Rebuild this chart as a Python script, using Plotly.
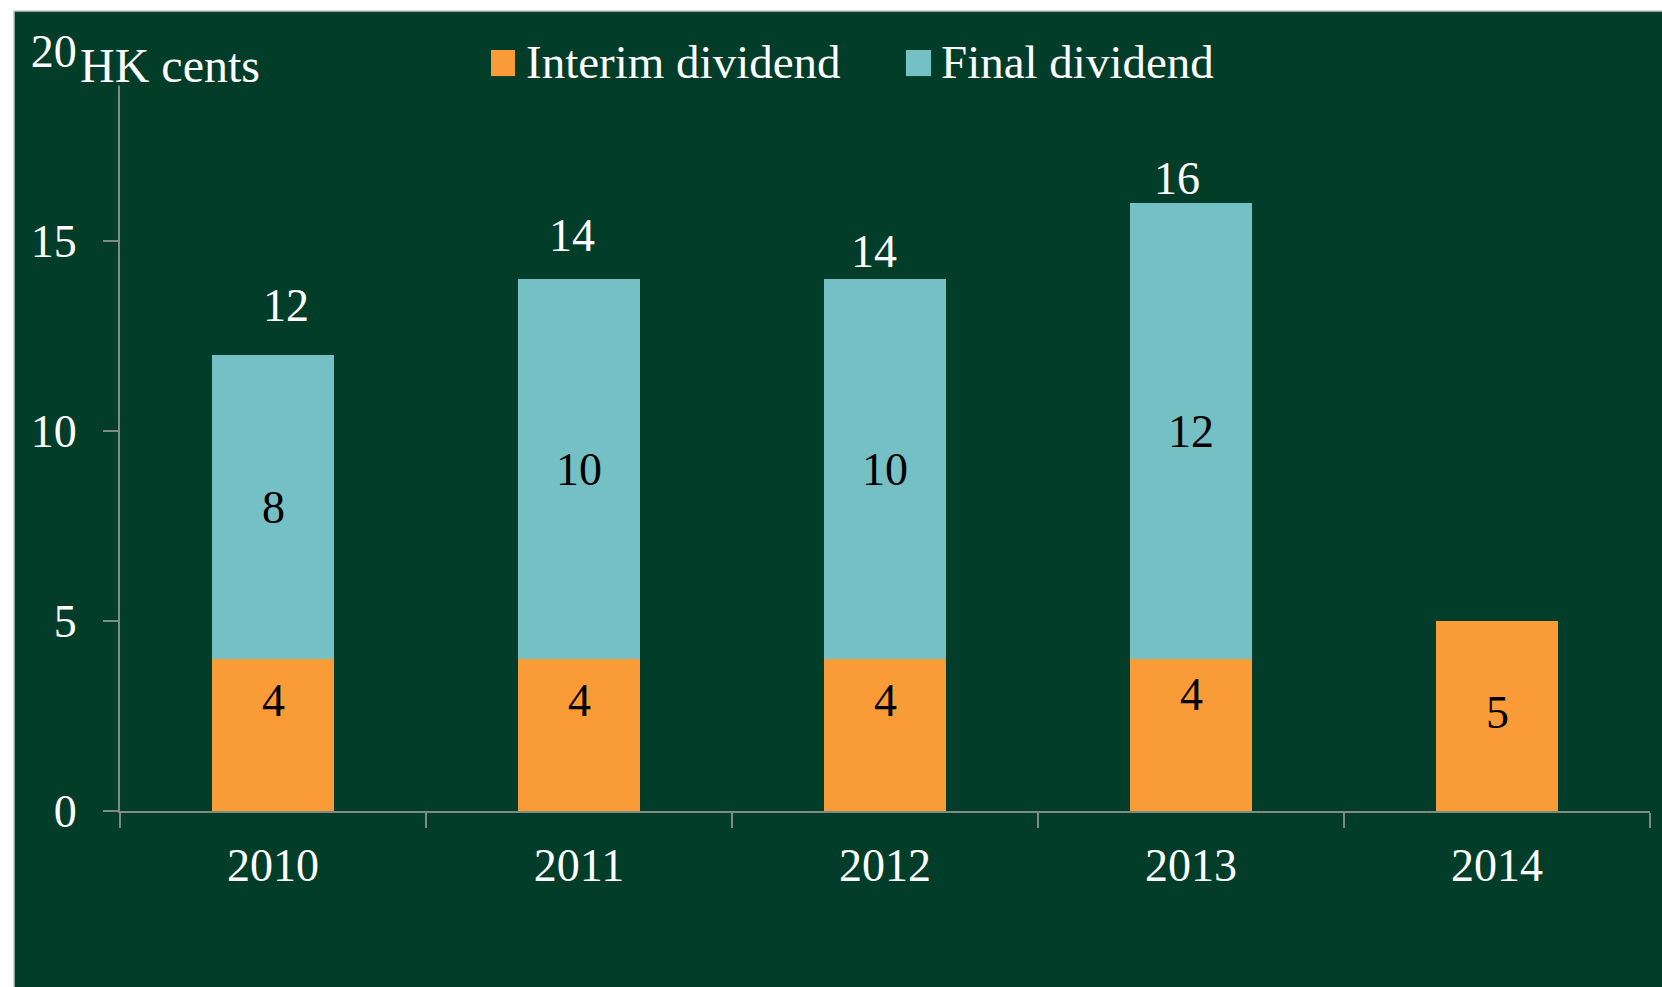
import plotly.graph_objects as go

years = ["2010", "2011", "2012", "2013", "2014"]
interim = [4, 4, 4, 4, 5]
final = [8, 10, 10, 12, 0]
totals = [12, 14, 14, 16, None]

# style: per-label pixel offsets to mimic the reference label placement
total_xshift = [13, -7, -11, -14]
total_yshift = [50, 44, 28, 25]
interim_yshift = [35, 35, 35, 41, 4]

BG = "#023D29"
ORANGE = "#F99B36"
TEAL = "#74C0C4"
AXIS = "#7F8A85"
FONT = "Liberation Serif"

fig = go.Figure()
fig.add_trace(go.Bar(x=years, y=interim, name="Interim dividend",
                     marker=dict(color=ORANGE, line=dict(width=0)), showlegend=False))
fig.add_trace(go.Bar(x=years, y=[f if f else None for f in final], name="Final dividend",
                     marker=dict(color=TEAL, line=dict(width=0)), showlegend=False))

ann = []
for i, yr in enumerate(years):
    ann.append(dict(x=i, y=interim[i] / 2, text=str(interim[i]), showarrow=False,
                    yshift=interim_yshift[i], font=dict(family=FONT, size=46, color="black")))
    if final[i]:
        ann.append(dict(x=i, y=interim[i] + final[i] / 2, text=str(final[i]), showarrow=False,
                        font=dict(family=FONT, size=46, color="black")))
    if totals[i] is not None:
        ann.append(dict(x=i, y=totals[i], text=str(totals[i]), showarrow=False,
                        xshift=total_xshift[i], yshift=total_yshift[i],
                        font=dict(family=FONT, size=46, color="white")))

# y-axis unit label
ann.append(dict(xref="paper", yref="paper", x=-0.027, y=0.982, xanchor="left", yanchor="middle",
                text="HK cents", showarrow=False, bgcolor=BG, borderpad=0, height=40, valign="middle",
                font=dict(family=FONT, size=48, color="white")))
# legend text
ann.append(dict(xref="paper", yref="paper", x=0.264, y=0.986, xanchor="left", yanchor="middle",
                text="Interim dividend", showarrow=False,
                font=dict(family=FONT, size=47, color="white")))
ann.append(dict(xref="paper", yref="paper", x=0.535, y=0.986, xanchor="left", yanchor="middle",
                text="Final dividend", showarrow=False,
                font=dict(family=FONT, size=47, color="white")))

shapes = [
    dict(type="rect", xref="paper", yref="paper", x0=-0.0693, x1=1.01, y0=-0.235, y1=1.0526,
         fillcolor=BG, line=dict(color="#C8C8C8", width=1.5), layer="below"),
    dict(type="rect", xref="paper", yref="paper", x0=0.2425, x1=0.2582, y0=0.967, y1=1.0013,
         fillcolor=ORANGE, line=dict(width=0)),
    dict(type="rect", xref="paper", yref="paper", x0=0.5137, x1=0.5301, y0=0.967, y1=1.0013,
         fillcolor=TEAL, line=dict(width=0)),
]

fig.update_layout(
    barmode="stack", bargap=0.6,
    width=1662, height=987,
    margin=dict(l=120, r=12, t=51, b=176),
    paper_bgcolor="white", plot_bgcolor="rgba(0,0,0,0)",
    font=dict(family=FONT, color="white"),
    annotations=ann, shapes=shapes,
    xaxis=dict(type="category", range=[-0.5, 4.5], showline=True, linecolor=AXIS, linewidth=2,
               ticks="outside", tickson="boundaries", ticklen=15, tickwidth=2, tickcolor=AXIS,
               showgrid=False, zeroline=False, tickangle=0,
               tickfont=dict(family=FONT, size=46, color="white"), ticklabelstandoff=13),
    yaxis=dict(range=[0, 20], tickvals=[0, 5, 10, 15, 20], showline=True, linecolor=AXIS, linewidth=2,
               ticks="outside", ticklen=15, tickwidth=2, tickcolor=AXIS, showgrid=False, zeroline=False,
               tickfont=dict(family=FONT, size=46, color="white"), ticklabelstandoff=17),
)

fig.write_html("out.html")
